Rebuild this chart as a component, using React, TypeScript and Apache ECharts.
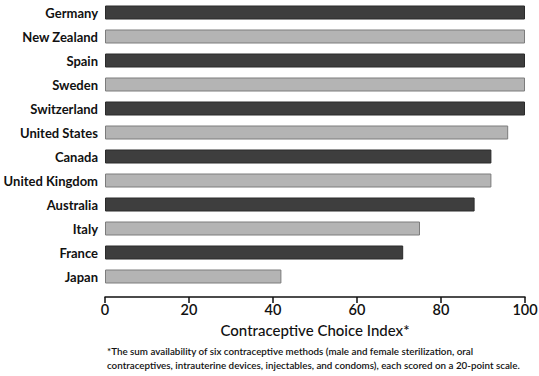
import React, { useEffect, useRef } from "react";
import * as echarts from "echarts";

const countries = [
  "Germany",
  "New Zealand",
  "Spain",
  "Sweden",
  "Switzerland",
  "United States",
  "Canada",
  "United Kingdom",
  "Australia",
  "Italy",
  "France",
  "Japan",
];
const indexValues = [100, 100, 100, 100, 100, 96, 92, 92, 88, 75, 71, 42];
const xTicks = [0, 20, 40, 60, 80, 100];
const axisTitle = "Contraceptive Choice Index*";
const footnoteLines = [
  "*The sum availability of six contraceptive methods (male and female sterilization, oral",
  "contraceptives, intrauterine devices, injectables, and condoms), each scored on a 20-point scale.",
];

export default function App() {
  const ref = useRef<HTMLDivElement>(null);
  useEffect(() => {
    if (!ref.current) return;
    const chart = echarts.init(ref.current, null, { renderer: "svg" });
    const font = "Lato, 'Open Sans', sans-serif";
    chart.setOption({
      animation: false,
      backgroundColor: "#ffffff",
      grid: {
        left: 105,
        top: 0.5,
        width: 420,
        height: 288,
        containLabel: false,
        outerBoundsMode: "none",
      },
      xAxis: {
        type: "value",
        min: xTicks[0],
        max: xTicks[xTicks.length - 1],
        interval: 20,
        offset: 8.5,
        axisLine: { show: true, lineStyle: { color: "#111", width: 1.5 } },
        axisTick: { show: true, length: 6, lineStyle: { color: "#111", width: 1.5 } },
        splitLine: { show: false },
        axisLabel: {
          margin: 5,
          color: "#111",
          fontSize: 14.5,
          fontFamily: font,
          fontWeight: 600,
        },
        name: axisTitle,
        nameLocation: "middle",
        nameGap: 25,
        nameTextStyle: { color: "#111", fontSize: 15, fontFamily: font, fontWeight: 500 },
      },
      yAxis: {
        type: "category",
        data: countries,
        inverse: true,
        axisLine: { show: false },
        axisTick: { show: false },
        axisLabel: {
          margin: 7,
          color: "#111",
          fontSize: 13,
          fontFamily: font,
          fontWeight: 700,
        },
      },
      series: [
        {
          type: "bar",
          barWidth: 14,
          data: indexValues.map((v, i) => ({
            value: v,
            itemStyle:
              i % 2 === 0
                ? { color: "#3e3e3e", borderColor: "#2a2a2a", borderWidth: 1 }
                : { color: "#b4b4b4", borderColor: "#7c7c7c", borderWidth: 1 },
          })),
        },
      ],
      graphic: footnoteLines.map((line, i) => ({
        type: "text",
        left: 107,
        top: 346 + i * 14,
        style: {
          text: line,
          fill: "#111",
          font: `600 9.8px ${font}`,
        },
      })),
    });
    return () => chart.dispose();
  }, []);
  return (
    <div
      ref={ref}
      style={{ position: "fixed", left: 0, top: 0, width: 539, height: 376, background: "#fff" }}
    />
  );
}
